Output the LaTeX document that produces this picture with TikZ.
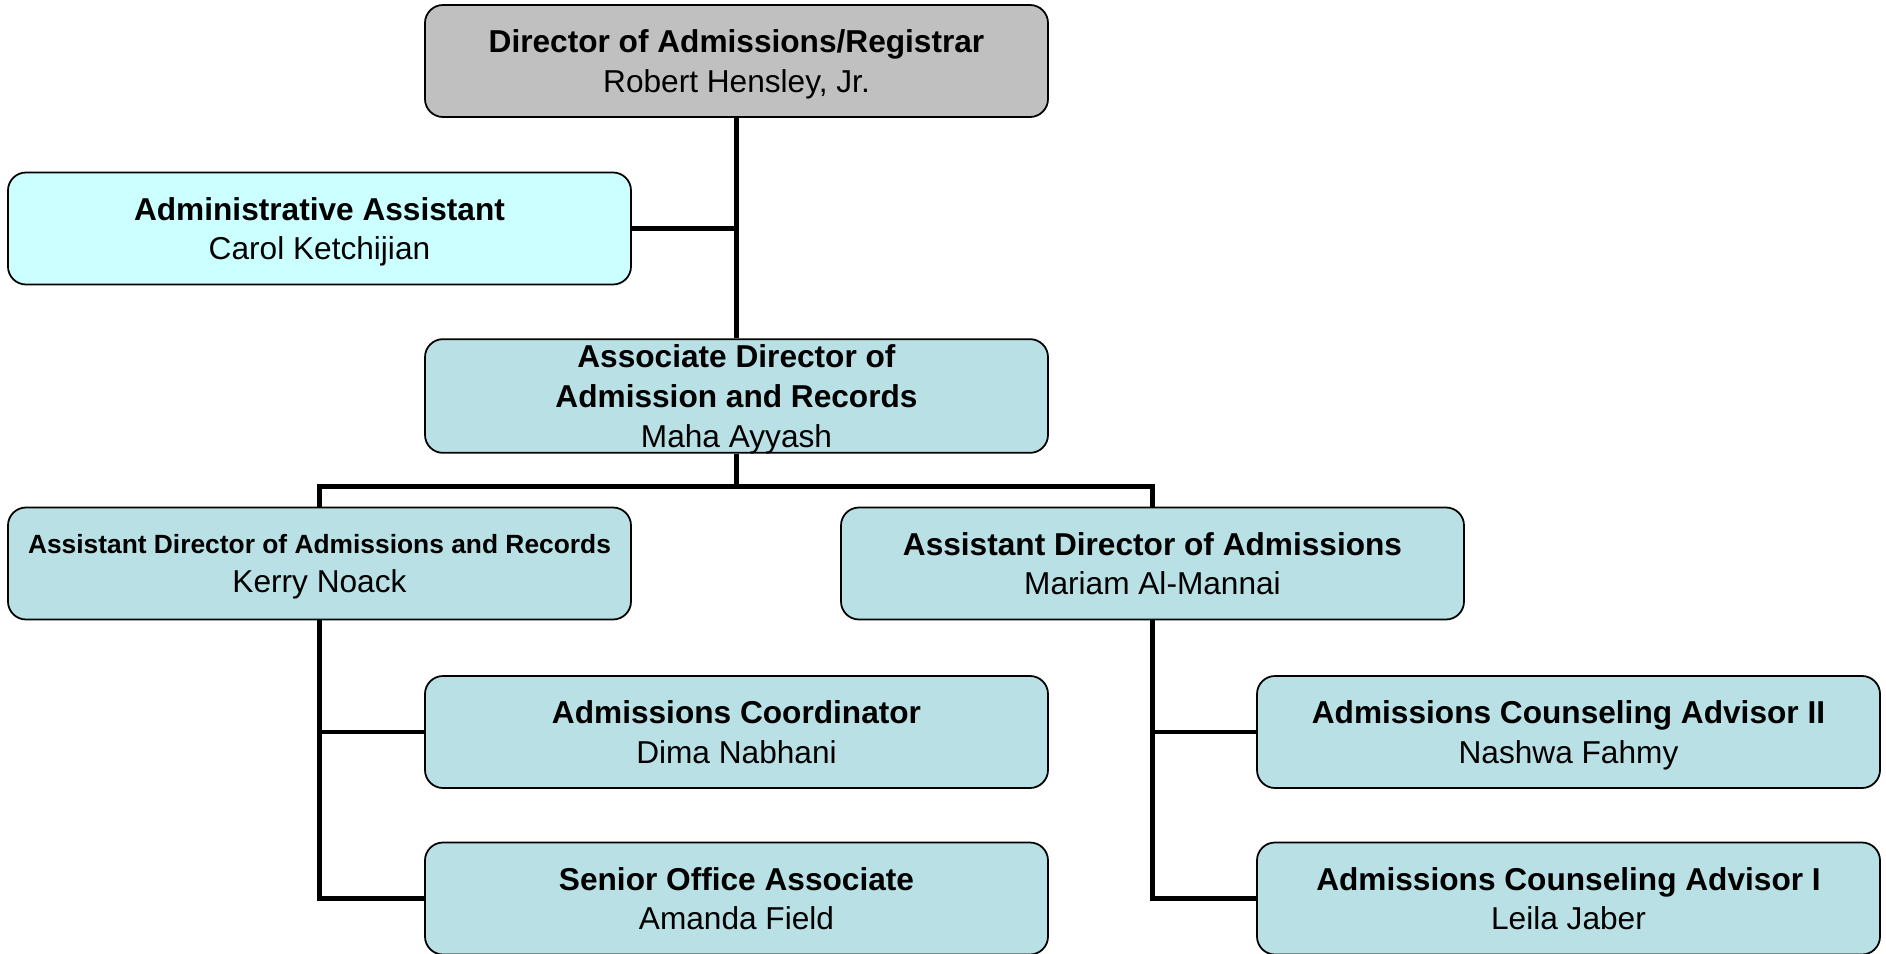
\documentclass[tikz,border=0pt]{standalone}
\usepackage{fontspec}
\setmainfont{Liberation Sans}
\usetikzlibrary{calc,positioning}

\definecolor{boxblue}{RGB}{185,224,228}
\definecolor{boxcyan}{RGB}{204,255,255}
\definecolor{boxgray}{RGB}{192,192,192}

\begin{document}
\begin{tikzpicture}[box/.style={draw,line width=1pt,rounded corners=0.36cm,minimum width=12.46cm,minimum height=2.24cm,align=center,text depth=0pt,fill=boxblue,font=\fontsize{18}{22.5}\selectfont},link/.style={line width=2.8pt}]
  \useasboundingbox (0,0) rectangle (37.72,-19.08);
  \node[box,fill=boxgray] (director) at (14.73,-1.22) {\textbf{Director of Admissions/Registrar}\\Robert Hensley, Jr.};
  \node[box,fill=boxcyan] (assistant) at (6.39,-4.57) {\textbf{Administrative Assistant}\\Carol Ketchijian};
  \node[box] (associate) at ($ (director) + (0,-6.70) $) {\textbf{Associate Director of}\\\textbf{Admission and Records}\\Maha Ayyash};
  \node[box] (records) at ($ (associate) + (-8.34,-3.35) $) {{\fontsize{15}{22.5}\selectfont\textbf{Assistant Director of Admissions and Records}}\\Kerry Noack};
  \node[box] (admissions) at ($ (associate) + (8.32,-3.35) $) {\textbf{Assistant Director of Admissions}\\Mariam Al-Mannai};
  \node[box] (coordinator) at ($ (associate) + (0,-6.72) $) {\textbf{Admissions Coordinator}\\Dima Nabhani};
  \node[box] (senior) at ($ (coordinator) + (0,-3.33) $) {\textbf{Senior Office Associate}\\Amanda Field};
  \node[box] (advisor two) at ($ (coordinator) + (16.64,0) $) {\textbf{Admissions Counseling Advisor II}\\Nashwa Fahmy};
  \node[box] (advisor one) at ($ (advisor two) + (0,-3.33) $) {\textbf{Admissions Counseling Advisor I}\\Leila Jaber};

  \draw[link] (director) -- (associate);
  \draw[link] (assistant.east) -- (assistant.east -| director.south);
  \draw[link] (associate.south) -- ++(0,-0.66) coordinate (fork);
  \draw[link] (records.north) |- (fork) -| (admissions.north);
  \draw[link] (records.south) |- (senior.west);
  \draw[link] (coordinator.west) -- (coordinator.west -| records.south);
  \draw[link] (admissions.south) |- (advisor one.west);
  \draw[link] (advisor two.west) -- (advisor two.west -| admissions.south);
\end{tikzpicture}
\end{document}
